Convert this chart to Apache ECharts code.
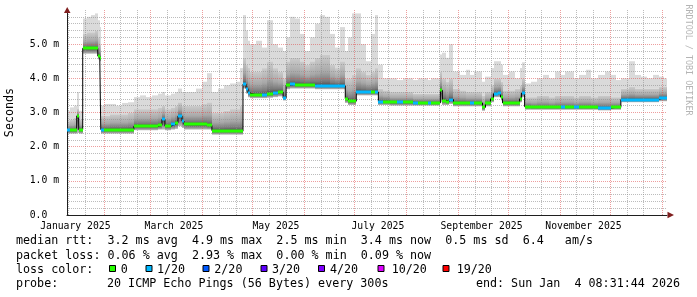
<!DOCTYPE html>
<html><head><meta charset="utf-8">
<script src="https://cdn.jsdelivr.net/npm/echarts@6/dist/echarts.min.js"></script>
<style>html,body{margin:0;padding:0;background:#fff}#c{width:697px;height:297px}</style>
</head><body><div id="c"></div>
<script>
// ---- data (days since 2025-01-01, ms) ----
const startDay = 9, endDay = 368;
const sampleDays = [9,10.6,13.0,14.8,16.0,18.4,20.8,23.2,25.6,27.4,28.6,29.2,31.0,34.6,38.2,41.8,45.4,49.0,52.6,56.2,59.8,63.4,65.8,67.6,71.2,73.6,75.4,77.8,79.0,82.6,86.2,89.7,92.7,95.7,99.3,102.9,106.5,110.1,112.5,114.3,116.1,117.3,118.5,122.1,125.7,128.7,132.3,135.3,138.3,140.1,142.5,145.5,148.5,151.5,154.5,157.5,160.5,163.5,166.5,169.5,172.5,175.5,177.3,179.7,182.1,185.1,188.1,191.1,193.5,195.3,198.3,202.5,206.7,210.3,216.3,219.3,224.7,226.5,232.4,233.6,236.0,237.8,240.2,244.4,248.0,250.4,252.8,257.6,259.4,262.4,264.2,266.6,268.4,269.6,273.2,276.8,279.8,281.0,282.8,286.4,290.0,293.6,297.2,300.8,304.4,306.8,312.2,315.2,319.4,322.4,326.6,330.8,334.4,337.4,340.4,345.2,348.8,352.4,356.0,359.6,363.2,366.2];
const medianRtt = [2.48,2.48,2.48,2.9,2.5,4.88,4.88,4.88,4.88,4.65,4.6,2.5,2.5,2.5,2.5,2.5,2.5,2.6,2.6,2.6,2.6,2.62,2.8,2.6,2.65,2.7,2.9,2.75,2.65,2.65,2.65,2.65,2.62,2.47,2.47,2.47,2.47,2.47,2.45,3.83,3.7,3.57,3.52,3.52,3.52,3.55,3.58,3.6,3.42,3.8,3.82,3.8,3.8,3.8,3.8,3.78,3.78,3.78,3.78,3.78,3.78,3.4,3.33,3.33,3.6,3.6,3.6,3.6,3.6,3.32,3.32,3.3,3.3,3.3,3.28,3.28,3.28,3.28,3.65,3.35,3.32,3.38,3.28,3.28,3.28,3.28,3.28,3.15,3.28,3.4,3.55,3.57,3.45,3.28,3.28,3.28,3.4,3.57,3.17,3.15,3.15,3.15,3.15,3.15,3.15,3.15,3.15,3.15,3.15,3.15,3.13,3.13,3.15,3.15,3.38,3.38,3.38,3.38,3.38,3.38,3.43,3.43];
const lossClass = [1,0,0,0,0,0,0,0,0,0,0,1,0,0,0,0,0,0,0,0,0,0,1,0,1,0,1,1,0,0,0,0,0,0,0,0,0,0,0,1,1,1,0,0,1,0,1,0,1,0,1,0,0,0,0,1,1,1,1,1,1,0,0,0,1,1,1,0,1,1,0,0,1,0,1,0,1,0,0,0,0,1,0,0,0,1,0,0,0,0,1,1,0,0,0,0,0,1,0,0,0,0,0,0,1,0,1,0,0,0,1,1,0,0,1,1,1,1,1,1,1,1];
const smokeMin = [2.38,2.38,2.38,2.4,2.38,4.72,4.72,4.72,4.72,4.55,4.5,2.38,2.38,2.38,2.38,2.38,2.38,2.48,2.48,2.48,2.48,2.5,2.5,2.48,2.5,2.52,2.6,2.55,2.5,2.5,2.5,2.5,2.5,2.35,2.35,2.35,2.35,2.35,2.35,3.7,3.55,3.45,3.42,3.42,3.42,3.43,3.45,3.47,3.35,3.68,3.7,3.7,3.7,3.7,3.7,3.68,3.68,3.68,3.68,3.68,3.68,3.28,3.22,3.22,3.5,3.5,3.5,3.5,3.5,3.22,3.22,3.2,3.2,3.2,3.2,3.2,3.2,3.2,3.3,3.22,3.22,3.25,3.18,3.18,3.18,3.18,3.18,3.05,3.18,3.3,3.45,3.45,3.35,3.18,3.18,3.18,3.3,3.45,3.08,3.08,3.08,3.08,3.08,3.08,3.08,3.08,3.08,3.08,3.08,3.08,3.06,3.06,3.08,3.08,3.3,3.3,3.3,3.3,3.3,3.3,3.33,3.33];
const smokeMid = [2.75,2.8,2.85,3.1,2.8,5.3,5.35,5.35,5.4,5.2,5.0,2.9,2.9,2.95,2.95,2.95,3.0,3.1,3.1,3.1,3.1,3.15,3.2,3.1,3.15,3.2,3.3,3.2,3.2,3.2,3.2,3.25,3.3,3.0,3.0,3.05,3.1,3.1,3.2,4.6,4.4,4.3,4.2,4.2,4.3,4.5,4.3,4.2,4.0,4.5,4.6,4.6,4.5,4.4,4.5,4.6,4.7,4.7,4.4,4.3,4.5,4.0,4.0,4.1,4.3,4.2,4.1,4.2,4.3,3.7,3.65,3.6,3.6,3.6,3.55,3.55,3.55,3.55,4.2,4.0,3.9,4.0,3.7,3.65,3.6,3.6,3.6,3.5,3.6,3.8,4.0,4.0,3.9,3.65,3.65,3.7,3.8,4.0,3.45,3.45,3.5,3.5,3.45,3.5,3.5,3.5,3.45,3.5,3.5,3.45,3.5,3.5,3.45,3.45,3.7,3.75,3.7,3.7,3.7,3.7,3.75,3.75];
const smokeMax = [3.05,3.15,3.2,3.6,3.05,5.75,5.8,5.85,5.9,5.7,5.5,3.2,3.25,3.25,3.2,3.28,3.3,3.45,3.5,3.45,3.5,3.55,3.6,3.5,3.55,3.6,3.7,3.6,3.6,3.6,3.7,3.9,4.15,3.6,3.7,3.8,3.85,3.9,4.3,5.85,5.4,5.1,5.0,5.1,4.9,5.7,5.0,4.9,4.8,5.2,5.8,5.75,5.3,4.8,5.2,5.6,5.85,5.8,5.3,4.9,5.5,4.8,5.2,5.9,5.9,5.0,4.5,5.3,5.85,4.4,4.0,4.0,3.95,4.0,3.95,4.0,3.95,4.0,4.7,4.75,4.6,5.0,4.2,4.1,4.25,4.1,4.2,3.9,4.05,4.3,4.5,4.5,4.4,4.1,4.2,4.0,4.3,4.47,3.85,3.9,4.0,4.1,4.0,4.2,4.1,4.2,4.0,4.1,4.25,4.0,4.1,4.2,4.1,3.95,4.0,4.5,4.1,4.05,4.0,4.1,4.05,4.0];

const monthLabels = ['January 2025','March 2025','May 2025','July 2025','September 2025','November 2025'];
const monthLabelDays = [14,73,134,195,257,318];
const monthStartDays = [31,59,90,120,151,181,212,243,273,304,334,365];
const minorGridDays = [10,20,41,51,69,79,100,110,130,140,161,171,191,201,222,232,253,263,283,293,314,324,344,354];

const lossLevels = ['0','1/20','2/20','3/20','4/20','10/20','19/20'];
const lossColors = ['#26ff00','#00b8ff','#0059ff','#5e00ff','#7e00ff','#dd00ff','#ff0000'];

const rttLine = 'median rtt:  3.2 ms avg  4.9 ms max  2.5 ms min  3.4 ms now  0.5 ms sd  6.4   am/s';
const lossLine = 'packet loss: 0.06 % avg  2.93 % max  0.00 % min  0.09 % now';
const probeText = '20 ICMP Echo Pings (56 Bytes) every 300s';
const endText = 'end: Sun Jan  4 08:31:44 2026';

// ---- build ----
const cats = [];
for (let d = startDay; d <= endDay; d++) cats.push(String(d));
const segEnd = i => (i + 1 < sampleDays.length ? sampleDays[i + 1] : endDay);
const smokeData = sampleDays.map((d, i) => [d, segEnd(i), smokeMin[i], smokeMid[i], smokeMax[i], medianRtt[i]]);
const lineData = sampleDays.map((d, i) => [d, medianRtt[i]]).concat([[endDay, medianRtt[medianRtt.length - 1]]]);
const colorData = sampleDays.map((d, i) => [d, segEnd(i), medianRtt[i], lossClass[i]]);

const MONO = '"DejaVu Sans Mono", monospace';
const chart = echarts.init(document.getElementById('c'), null, {renderer: 'canvas'});

const legendEls = [];
const lf = '11.7px ' + MONO;
function txt(x, y, s, align) {
  legendEls.push({type: 'text', x: x, y: y, z: 10,
    style: {text: s, font: lf, fill: '#000', textAlign: align || 'left', align: align || 'left', textVerticalAlign: 'middle', verticalAlign: 'middle'}});
}
txt(16, 241, rttLine);
txt(16, 255.5, lossLine);
txt(16, 269.5, 'loss color:');
const sqX = [109, 145.5, 202.5, 260.5, 318, 377.5, 442.5];
const lbX = [120.7, 157, 214.3, 272, 330, 391.7, 456.7];
lossLevels.forEach((l, i) => {
  legendEls.push({type: 'rect', z: 10, shape: {x: sqX[i] + 0.5, y: 265.5, width: 6, height: 6},
    style: {fill: lossColors[i], stroke: '#000', lineWidth: 1}});
  txt(lbX[i], 269.5, l);
});
txt(16, 283.5, 'probe:');
txt(107, 283.5, probeText);
txt(680, 283.5, endText, 'right');
// watermark
legendEls.push({type: 'text', x: 688, y: 60, rotation: -Math.PI / 2, z: 10,
  style: {text: 'RRDTOOL / TOBI OETIKER', font: '8.4px ' + MONO, fill: '#b4b4b4', textAlign: 'center', align: 'center', textVerticalAlign: 'middle', verticalAlign: 'middle'}});
// arrows
legendEls.push({type: 'polygon', z: 10, shape: {points: [[64, 13], [70.5, 13], [67.2, 7]]}, style: {fill: '#801f1f'}});
legendEls.push({type: 'polygon', z: 10, shape: {points: [[667.5, 211.8], [667.5, 218.2], [674, 215]]}, style: {fill: '#801f1f'}});

const gridMajor = {color: 'rgba(222,79,79,0.55)', type: [1, 1], width: 1};
const gridMinor = {color: 'rgba(143,143,143,0.6)', type: [1, 1], width: 1};

chart.setOption({
  animation: false,
  backgroundColor: '#ffffff',
  grid: {left: 67, right: 30, top: 10, bottom: 82, containLabel: false, outerBoundsMode: 'none'},
  xAxis: [
    {type: 'value', min: startDay, max: endDay, z: 6,
      axisLine: {show: true, lineStyle: {color: '#1f1f1f', width: 1}}, axisTick: {show: false},
      axisLabel: {show: false}, splitLine: {show: false}},
    {type: 'category', data: cats, boundaryGap: false, position: 'bottom', z: 3,
      axisLine: {show: false}, axisTick: {show: false}, axisLabel: {show: false},
      splitLine: {show: true, interval: (i, v) => minorGridDays.includes(+v), lineStyle: gridMinor}},
    {type: 'category', data: cats, boundaryGap: false, position: 'bottom', z: 4,
      axisLine: {show: false}, axisTick: {show: false},
      axisLabel: {show: true, interval: (i, v) => monthLabelDays.includes(+v),
        formatter: v => monthLabels[monthLabelDays.indexOf(+v)] || '',
        fontFamily: MONO, fontSize: 9.75, color: '#000', margin: 6},
      splitLine: {show: true, interval: (i, v) => monthStartDays.includes(+v), lineStyle: gridMajor}}
  ],
  yAxis: {type: 'value', min: 0, max: 6, interval: 1, z: 4,
    name: 'Seconds', nameLocation: 'middle', nameRotate: 90, nameGap: 51,
    nameTextStyle: {fontFamily: MONO, fontSize: 11.7, color: '#000'},
    axisLine: {show: true, lineStyle: {color: '#1f1f1f', width: 1}}, axisTick: {show: false},
    axisLabel: {fontFamily: MONO, fontSize: 9.75, color: '#000', margin: 8,
      formatter: v => v === 0 ? '0.0  ' : (v >= 6 ? '' : v.toFixed(1) + ' m')},
    splitLine: {show: true, showMaxLine: false, showMinLine: false, lineStyle: gridMajor},
    minorTick: {show: false, splitNumber: 5},
    minorSplitLine: {show: true, lineStyle: gridMinor}},
  graphic: legendEls,
  series: [
    {type: 'custom', name: 'smoke', xAxisIndex: 0, yAxisIndex: 0, z: 1, clip: true,
      data: smokeData, encode: {x: [0, 1], y: [2, 4]},
      renderItem: (params, api) => {
        const s = api.value(0), e = api.value(1), lo = api.value(2), mid = api.value(3), hi = api.value(4), md = api.value(5);
        const xL = Math.round(api.coord([s, 0])[0]), xR = Math.round(api.coord([e, 0])[0]);
        const yHi = api.coord([s, hi])[1], yMid = api.coord([s, mid])[1], yLo = api.coord([s, lo])[1], yMd = api.coord([s, md])[1];
        const f = Math.max(0.05, Math.min(0.95, (yMd - yMid) / (yLo - yMid)));
        return {type: 'group', children: [
          {type: 'rect', shape: {x: xL, y: yHi, width: xR - xL, height: yMid - yHi}, style: {fill: '#dadada'}},
          {type: 'rect', shape: {x: xL, y: yMid, width: xR - xL, height: yLo - yMid},
            style: {fill: new echarts.graphic.LinearGradient(0, 0, 0, 1, [
              {offset: 0, color: '#cccccc'}, {offset: f * 0.55, color: '#a8a8a8'},
              {offset: f * 0.85, color: '#7a7a7a'}, {offset: f, color: '#4a4a4a'}, {offset: 1, color: '#bdbdbd'}])}}
        ]};
      }},
    {type: 'line', name: 'median', xAxisIndex: 0, yAxisIndex: 0, z: 5, step: 'end',
      data: lineData, symbol: 'none', lineStyle: {color: '#000', width: 1}},
    {type: 'custom', name: 'loss', xAxisIndex: 0, yAxisIndex: 0, z: 6, clip: true,
      data: colorData, encode: {x: [0, 1], y: 2},
      renderItem: (params, api) => {
        const s = api.value(0), e = api.value(1), md = api.value(2), lc = api.value(3);
        const p0 = api.coord([s, md]), p1 = api.coord([e, md]);
        const xL = Math.round(p0[0]), xR = Math.round(p1[0]);
        return {type: 'rect', shape: {x: xL, y: Math.round(p0[1]) - 1.5, width: Math.max(1, xR - xL), height: 3},
          style: {fill: lossColors[lc]}};
      }}
  ]
});
</script></body></html>
